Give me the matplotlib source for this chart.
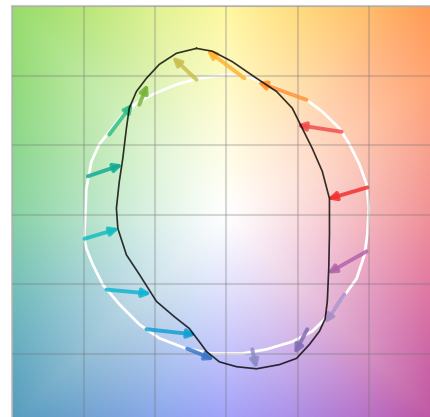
import numpy as np
import matplotlib
matplotlib.use("Agg")
import matplotlib.pyplot as plt

# background colours sampled along the border of the plane (x, y, rgb)
edge_x = [-3, -2, -1, 0, 1, 2, 3, 3, 3, 3, 3, 3, 3, 2, 1, 0, -1, -2, -3, -3, -3, -3, -3, -3]
edge_y = [3, 3, 3, 3, 3, 3, 3, 2, 1, 0, -1, -2, -3, -3, -3, -3, -3, -3, -3, -2, -1, 0, 1, 2]
edge_rgb = [(150, 220, 105), (185, 230, 120), (225, 242, 145), (255, 248, 160), (255, 220, 125),
            (255, 190, 105), (255, 150, 80), (255, 160, 110), (248, 155, 135), (240, 140, 145),
            (225, 115, 155), (205, 95, 160), (190, 80, 160), (180, 110, 200), (170, 140, 230),
            (160, 160, 250), (135, 165, 235), (110, 160, 210), (85, 155, 190), (100, 172, 192),
            (118, 192, 185), (135, 210, 165), (140, 215, 140), (145, 218, 120)]

# reference hue ring (white)
ring_x = [-1.99, -1.96, -1.89, -1.78, -1.64, -1.45, -1.26, -1.03, -0.70, -0.38, 0.00, 0.28, 0.56,
          0.84, 1.12, 1.34, 1.58, 1.72, 1.86, 1.96, 1.99, 1.97, 1.93, 1.82, 1.62, 1.44, 1.20, 0.92,
          0.56, 0.22, -0.20, -0.56, -0.94, -1.22, -1.50, -1.73, -1.87, -1.96]
ring_y = [-0.35, 0.37, 0.76, 1.01, 1.19, 1.44, 1.60, 1.73, 1.87, 1.96, 2.01, 1.99, 1.88, 1.77,
          1.65, 1.48, 1.24, 1.01, 0.72, 0.43, 0.09, -0.29, -0.58, -0.92, -1.21, -1.44, -1.68,
          -1.83, -1.94, -2.00, -2.00, -1.93, -1.78, -1.58, -1.29, -1.01, -0.72, -0.49]

# shifted curve (black)
shift_x = [-0.42, -0.70, -0.94, -1.12, -1.26, -1.36, -1.40, -1.45, -1.50, -1.54, -1.52, -1.40,
           -1.22, -0.98, -0.73, -0.52, -0.38, -0.28, -0.10, 0.14, 0.42, 0.74, 0.98, 1.16, 1.30,
           1.38, 1.41, 1.43, 1.44, 1.44, 1.34, 1.20, 1.06, 0.92, 0.70, 0.42, 0.08, -0.20]
shift_y = [2.39, 2.32, 2.16, 1.96, 1.77, 1.53, 1.24, 0.81, 0.47, 0.09, -0.20, -0.58, -0.86,
           -1.25, -1.47, -1.64, -1.83, -1.97, -2.12, -2.19, -2.22, -2.16, -2.07, -1.87, -1.68,
           -1.50, -1.25, -0.78, -0.29, 0.23, 0.62, 0.95, 1.24, 1.53, 1.77, 1.96, 2.20, 2.35]

# arrows: start on ring, end on shifted curve
arr_x0 = [-0.42, 0.25, 1.12, 1.61, 1.97, 1.96, 1.65, 1.13, 0.36, -0.55, -1.12, -1.68, -1.99, -1.94, -1.64, -1.22]
arr_y0 = [1.94, 1.96, 1.65, 1.19, 0.39, -0.53, -1.15, -1.65, -1.94, -1.93, -1.65, -1.08, -0.35, 0.55, 1.15, 1.58]
arr_x1 = [-0.76, -0.28, 0.43, 0.98, 1.41, 1.41, 1.37, 0.95, 0.42, -0.17, -0.42, -1.05, -1.50, -1.45, -1.31, -1.10]
arr_y1 = [2.27, 2.37, 1.91, 1.29, 0.22, -0.85, -1.57, -2.01, -2.22, -2.09, -1.73, -1.14, -0.20, 0.72, 1.60, 1.88]
arr_colors = ["#c8c050", "#ffb432", "#ff9132", "#f05050", "#f03232", "#b464aa", "#aa8cc8", "#826eb4",
              "#8c8cc8", "#3c78c8", "#14a0d2", "#14b4d2", "#14bebe", "#14aa96", "#32be82", "#78b43c"]

fig = plt.figure(figsize=(4.31, 4.17), dpi=100)
ax = fig.add_axes([12 / 431, -0.0144, 429 / 431, 1.0])

# background: colour at border, fading to white at the centre
n = 400
gx, gy = np.meshgrid(np.linspace(-3, 3, n), np.linspace(-3, 3, n))
ang = np.arctan2(gy, gx)
e_ang = np.arctan2(np.array(edge_y, float), np.array(edge_x, float))
e_rgb = np.array(edge_rgb, float) / 255
order = np.argsort(e_ang)
e_ang, e_rgb = e_ang[order], e_rgb[order]
e_ang = np.concatenate([e_ang - 2 * np.pi, e_ang, e_ang + 2 * np.pi])
e_rgb = np.concatenate([e_rgb, e_rgb, e_rgb])
t = (np.maximum(np.abs(gx), np.abs(gy)) / 3) ** 1.15
img = np.zeros((n, n, 3))
for k in range(3):
    edge = np.interp(ang, e_ang, e_rgb[:, k])
    img[:, :, k] = 1 - (1 - edge) * t
ax.imshow(img, extent=[-3, 3, -3, 3], origin="lower", interpolation="bilinear",
          aspect="auto", zorder=0)

ax.set_xlim(-3, 3)
ax.set_ylim(-3, 3)
ax.set_xticks(range(-3, 4))
ax.set_yticks(range(-3, 4))
ax.tick_params(length=0, labelleft=False, labelbottom=False)
ax.grid(True, color="0.45", alpha=0.28, lw=1.5, zorder=1)
ax.set_axisbelow(False)
for s in ax.spines.values():
    s.set_color("#c8c8c8")
    s.set_linewidth(1.5)

ax.plot(ring_x + ring_x[:1], ring_y + ring_y[:1], color="white", lw=2.0, zorder=2)

for i in range(len(arr_x0)):
    ax.annotate("", xy=(arr_x1[i], arr_y1[i]), xytext=(arr_x0[i], arr_y0[i]),
                arrowprops=dict(arrowstyle="-|>", lw=2.8, color=arr_colors[i], alpha=0.85,
                                mutation_scale=12, shrinkA=0, shrinkB=0), zorder=3)

ax.plot(shift_x + shift_x[:1], shift_y + shift_y[:1], color="black", lw=1.2, alpha=0.8, zorder=4)

fig.savefig("out.png", dpi=100)
